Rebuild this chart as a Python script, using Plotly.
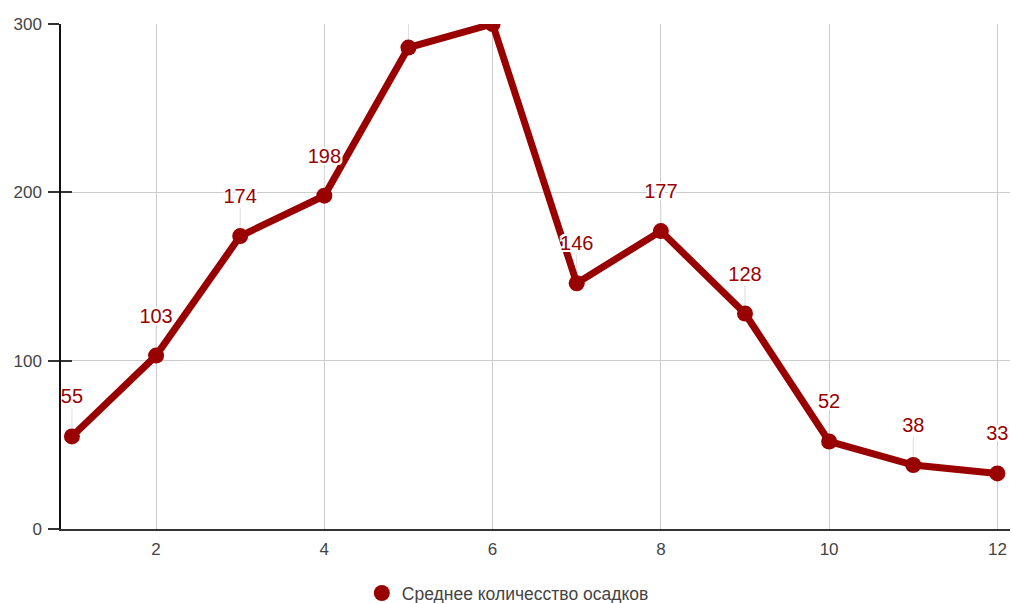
import plotly.graph_objects as go

# Monthly average precipitation
months = [1, 2, 3, 4, 5, 6, 7, 8, 9, 10, 11, 12]
precip = [55, 103, 174, 198, 286, 300, 146, 177, 128, 52, 38, 33]
series_name = "Среднее количесство осадков"

line_color = "#990000"
font_family = "Liberation Sans, Arial, sans-serif"

y_min, y_max = 0, 300
plot_top, plot_bottom = 24, 529
px_per_unit = (plot_bottom - plot_top) / (y_max - y_min)
label_offset = 38 / px_per_unit      # label sits 38px above its point
leader_len = 28 / px_per_unit        # thin leader line towards the label

label_y = [v + label_offset for v in precip]
# labels that would fall above the plotting area are not drawn
label_text = [str(v) if ly + 8 / px_per_unit <= y_max else "" for v, ly in zip(precip, label_y)]

fig = go.Figure()

# thin leader lines from each point up to its label
fig.add_trace(go.Scatter(
    x=months, y=precip, mode="markers",
    marker=dict(size=1, opacity=0),
    error_y=dict(type="data", symmetric=False,
                 array=[leader_len] * len(precip),
                 arrayminus=[0] * len(precip),
                 color="#dddddd", thickness=1, width=0),
    showlegend=False, hoverinfo="skip", cliponaxis=True,
))

fig.add_trace(go.Scatter(
    x=months, y=precip, mode="lines+markers", name=series_name,
    line=dict(color=line_color, width=7),
    marker=dict(color=line_color, size=16),
    cliponaxis=True, showlegend=False,
))

# legend entry: a plain dot
fig.add_trace(go.Scatter(
    x=[None], y=[None], mode="markers", name=series_name,
    marker=dict(color=line_color, size=20), showlegend=True,
))

# value labels with a white halo
fig.add_trace(go.Scatter(
    x=months, y=label_y, mode="text",
    text=label_text,
    textposition="middle center",
    textfont=dict(family=font_family, size=20, color=line_color,
                  shadow="-2px -2px 0 #fff, 2px -2px 0 #fff, -2px 2px 0 #fff, 2px 2px 0 #fff, 0 2px 0 #fff, 0 -2px 0 #fff, 2px 0 0 #fff, -2px 0 0 #fff"),
    showlegend=False, hoverinfo="skip", cliponaxis=True,
))

# empty trace so the overlay axis (inner tick halves) is rendered
fig.add_trace(go.Scatter(
    x=[None], y=[None], yaxis="y2", mode="markers",
    showlegend=False, hoverinfo="skip",
))

fig.update_layout(
    width=1012, height=603,
    margin=dict(l=61, r=2, t=plot_top, b=603 - plot_bottom, autoexpand=False),
    paper_bgcolor="white", plot_bgcolor="white",
    font=dict(family=font_family, size=17, color="#444444"),
    showlegend=True,
    legend=dict(orientation="h", x=0.317, xanchor="left", y=-0.127, yanchor="middle",
                font=dict(size=17.5, color="#444444"), itemsizing="trace"),
    xaxis=dict(range=[0.87, 12.15], dtick=2, tick0=0,
               showgrid=True, gridcolor="#cccccc", gridwidth=1,
               showline=True, linecolor="#333333", linewidth=1.5,
               zeroline=False, ticks="", ticklabelstandoff=4,
               tickfont=dict(size=17, color="#444444")),
    yaxis=dict(range=[y_min, y_max], dtick=100,
               showgrid=True, gridcolor="#cccccc", gridwidth=1,
               showline=True, linecolor="#111111", linewidth=1.5,
               zeroline=False, ticks="outside", ticklen=11, tickcolor="#333333",
               tickwidth=1.5, ticklabelstandoff=3,
               tickfont=dict(size=17, color="#444444")),
    # inner half of the cross-shaped y ticks
    yaxis2=dict(range=[y_min, y_max], dtick=100, overlaying="y", side="left",
                anchor="x", showgrid=False, showline=False, zeroline=False,
                ticks="inside", ticklen=11, tickcolor="#333333", tickwidth=1.5,
                showticklabels=False),
)

fig.write_html("out.html")
